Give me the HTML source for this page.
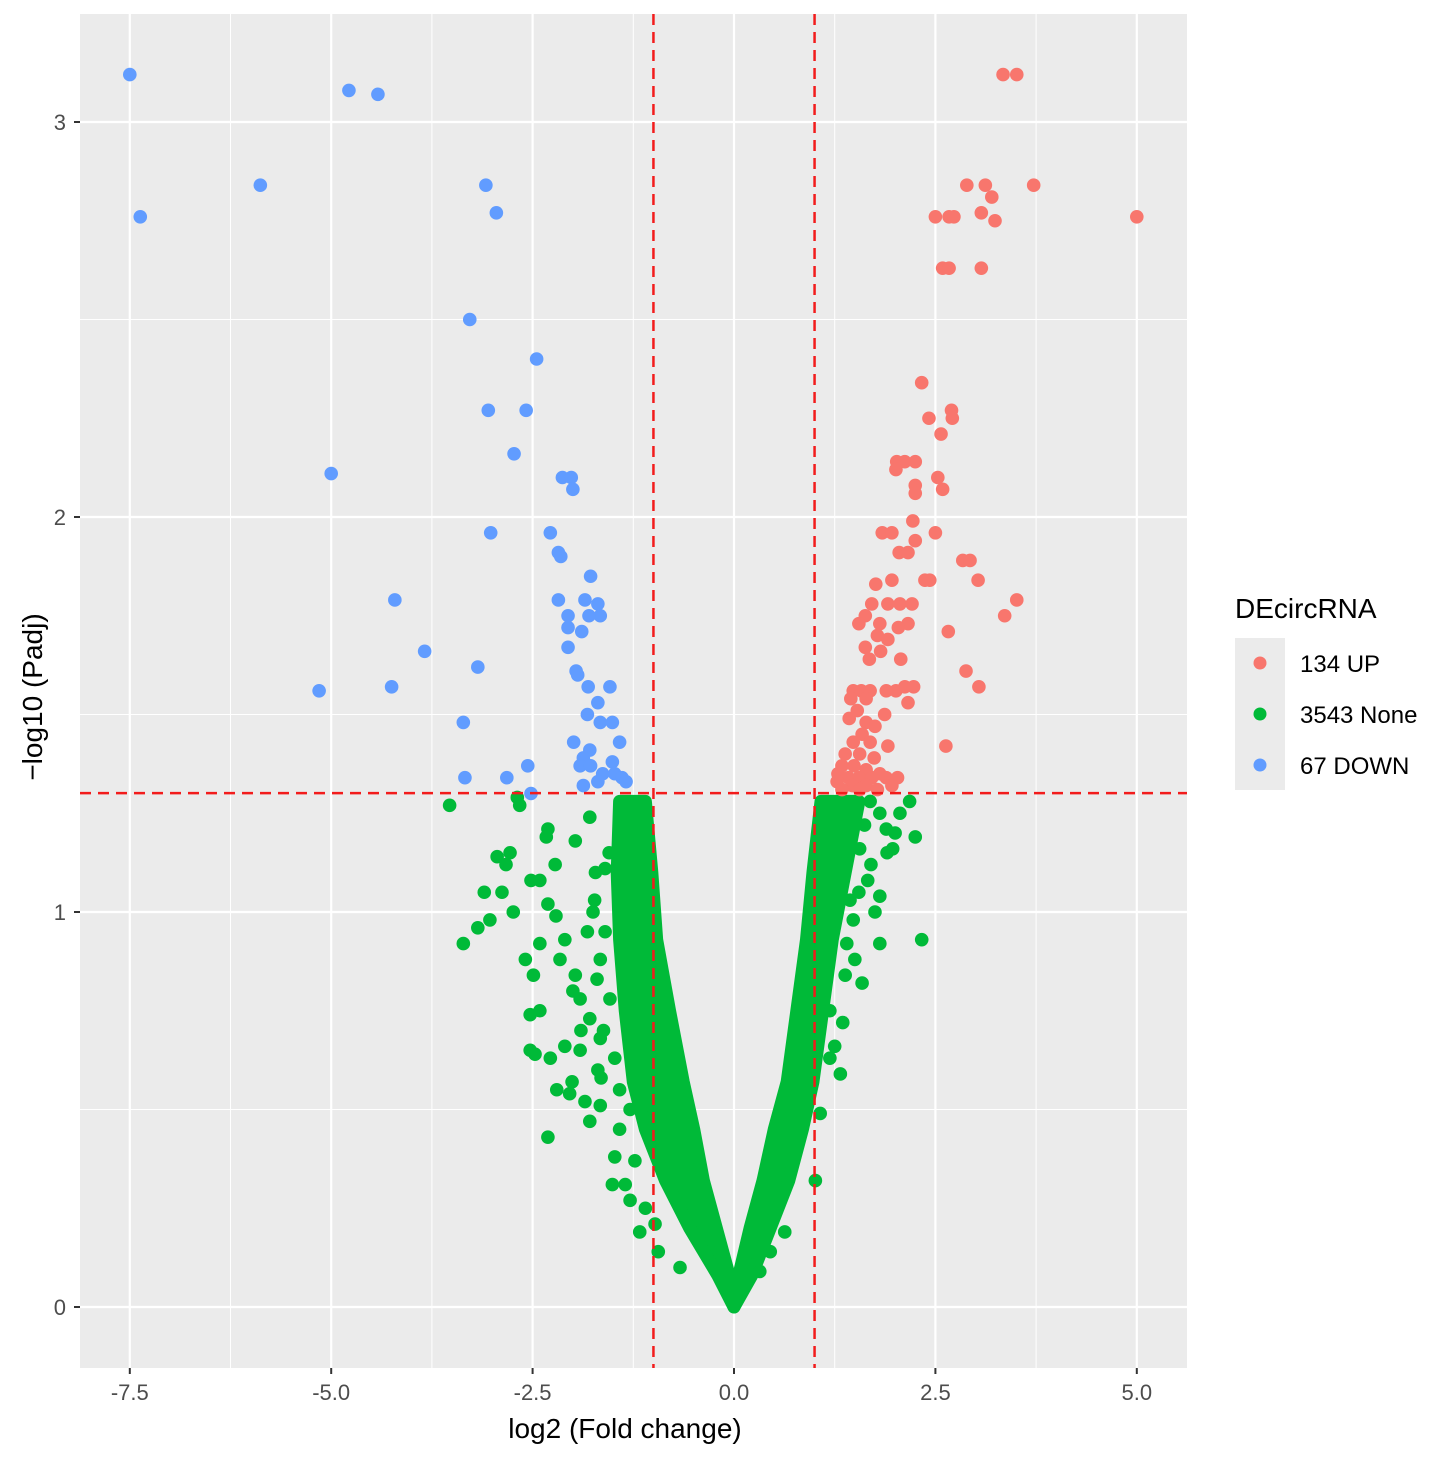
<!DOCTYPE html>
<html><head><meta charset="utf-8">
<style>
html,body{margin:0;padding:0;background:#fff;}
svg{display:block;font-family:"Liberation Sans",Arial,sans-serif;}
</style></head>
<body>
<svg id="chart" width="1441" height="1459" viewBox="0 0 1441 1459" xmlns="http://www.w3.org/2000/svg">
<rect x="80" y="14" width="1107" height="1354" fill="#ebebeb"/>
<g id="grid"></g>
<g id="core"></g>
<g id="points"></g>
<g id="thresholds"></g>
<g id="axes"></g>
<text x="625" y="1438" font-size="28" text-anchor="middle" fill="#000">log2 (Fold change)</text>
<text transform="translate(42,697) rotate(-90)" font-size="28" text-anchor="middle" fill="#000">−log10 (Padj)</text>
<g>
<text x="1235" y="618" font-size="28" fill="#000">DEcircRNA</text>
<rect x="1235" y="638" width="50" height="152" fill="#ebebeb"/>
<g><circle cx="1260" cy="663" r="6.5" fill="#f8766d"/><text x="1300" y="672" font-size="24" fill="#000">134 UP</text></g>
<g><circle cx="1260" cy="714" r="6.5" fill="#00ba38"/><text x="1300" y="723" font-size="24" fill="#000">3543 None</text></g>
<g><circle cx="1260" cy="765" r="6.5" fill="#619cff"/><text x="1300" y="774" font-size="24" fill="#000">67 DOWN</text></g>
</g>
</svg>
<script>
// ---- data ----
const xTicks = [-7.5, -5.0, -2.5, 0.0, 2.5, 5.0];
const xTickLabels = ["-7.5", "-5.0", "-2.5", "0.0", "2.5", "5.0"];
const yTicks = [0, 1, 2, 3];
const yTickLabels = ["0", "1", "2", "3"];
const fcThresholds = [-1, 1];
const padjThreshold = 1.301;

const downX = [-7.50,-7.37,-4.78,-4.42,-5.88,-3.08,-2.95,-3.28,-2.45,-3.05,-2.58,-2.73,-5.00,-2.13,-2.02,-2.00,-2.28,-3.02,-2.18,-2.15,-1.78,-2.18,-1.85,-1.69,-1.66,-1.80,-2.06,-2.06,-1.89,-2.06,-4.21,-3.84,-3.18,-5.15,-4.25,-1.96,-1.94,-1.81,-1.54,-1.69,-1.82,-1.66,-1.51,-3.36,-1.99,-1.79,-1.42,-1.87,-1.91,-1.78,-1.51,-1.63,-1.48,-1.39,-1.69,-2.56,-3.34,-2.82,-2.52,-1.87,-1.34];
const downY = [3.12,2.76,3.08,3.07,2.84,2.84,2.77,2.50,2.40,2.27,2.27,2.16,2.11,2.10,2.10,2.07,1.96,1.96,1.91,1.90,1.85,1.79,1.79,1.78,1.75,1.75,1.75,1.72,1.71,1.67,1.79,1.66,1.62,1.56,1.57,1.61,1.60,1.57,1.57,1.53,1.50,1.48,1.48,1.48,1.43,1.41,1.43,1.39,1.37,1.37,1.38,1.35,1.35,1.34,1.33,1.37,1.34,1.34,1.30,1.32,1.33];

const upX = [3.34,3.51,3.72,2.89,3.12,3.20,3.07,3.24,2.50,2.67,2.73,5.00,2.59,2.67,3.07,2.33,2.70,2.71,2.42,2.57,2.02,2.12,2.25,2.01,2.53,2.25,2.59,2.25,1.84,1.96,2.50,2.22,2.25,2.05,2.16,2.84,2.93,1.96,1.76,2.37,3.03,2.43,1.91,2.06,2.21,3.51,3.36,1.71,1.63,1.55,1.81,2.16,2.04,2.66,1.78,1.91,1.63,1.82,2.07,2.88,3.04,1.68,2.01,2.12,2.23,1.48,1.58,1.69,1.89,1.45,1.64,2.16,1.53,1.87,1.43,1.64,1.75,1.59,1.48,1.69,1.91,2.63,1.38,1.56,1.74,1.34,1.49,1.64,1.81,1.29,1.42,1.55,1.71,1.89,2.03,1.28,1.47,1.64,1.96,1.34,1.56,1.78];
const upY = [3.12,3.12,2.84,2.84,2.84,2.81,2.77,2.75,2.76,2.76,2.76,2.76,2.63,2.63,2.63,2.34,2.27,2.25,2.25,2.21,2.14,2.14,2.14,2.12,2.10,2.08,2.07,2.06,1.96,1.96,1.96,1.99,1.94,1.91,1.91,1.89,1.89,1.84,1.83,1.84,1.84,1.84,1.78,1.78,1.78,1.79,1.75,1.78,1.75,1.73,1.73,1.73,1.72,1.71,1.70,1.69,1.67,1.66,1.64,1.61,1.57,1.64,1.56,1.57,1.57,1.56,1.56,1.56,1.56,1.54,1.54,1.53,1.51,1.50,1.49,1.48,1.47,1.45,1.43,1.43,1.42,1.42,1.40,1.40,1.39,1.37,1.37,1.36,1.35,1.35,1.34,1.34,1.34,1.34,1.34,1.33,1.32,1.32,1.32,1.31,1.31,1.31];

const noneX = [-3.53,-2.69,-2.66,-2.94,-2.78,-2.83,-3.36,-3.18,-3.03,-3.10,-2.88,-2.74,-2.59,-2.49,-2.41,-2.53,-2.41,-2.47,-2.53,-2.31,-2.33,-2.22,-2.41,-2.52,-2.31,-2.21,-2.20,-2.04,-2.28,-2.31,-2.01,-1.91,-2.10,-1.85,-1.66,-1.79,-1.42,-1.97,-1.79,-2.16,-2.10,-1.97,-1.91,-1.79,-1.66,-1.51,-1.35,-1.29,-1.17,-0.94,-0.67,-0.98,-1.10,-1.23,-1.48,-1.73,-1.60,-1.66,-1.54,-1.48,-1.69,-1.42,-1.29,
 -1.75,-1.82,-1.70,-1.62,-1.90,-1.60,-1.72,-2.00,-1.55,-1.65,
 2.25,2.33,1.81,1.75,1.81,1.66,1.97,1.89,1.81,1.69,2.06,1.56,1.32,1.25,1.19,1.38,1.50,1.59,1.07,1.01,1.19,0.32,0.45,0.63,2.18,1.44,
 1.62,1.70,1.55,1.48,1.40,1.35,1.90,2.00];
const noneY = [1.27,1.29,1.27,1.14,1.15,1.12,0.92,0.96,0.98,1.05,1.05,1.00,0.88,0.84,0.92,0.74,0.75,0.64,0.65,1.21,1.19,1.12,1.08,1.08,1.02,0.99,0.55,0.54,0.63,0.43,0.57,0.65,0.66,0.52,0.51,0.47,0.45,1.18,1.24,0.88,0.93,0.84,0.78,0.73,0.68,0.31,0.31,0.27,0.19,0.14,0.10,0.21,0.25,0.37,0.38,1.03,1.11,0.88,0.78,0.63,0.60,0.55,0.50,
 1.00,0.95,0.83,0.70,0.70,0.95,1.10,0.80,1.15,0.58,
 1.19,0.93,0.92,1.00,1.04,1.08,1.16,1.21,1.25,1.28,1.25,1.16,0.59,0.66,0.75,0.84,0.88,0.82,0.49,0.32,0.63,0.09,0.14,0.19,1.28,1.03,
 1.22,1.12,1.05,0.98,0.92,0.72,1.15,1.20];

// dense "None" core envelope (log2FC bounds at each -log10 level)
const coreLevels   = [0, 0.08, 0.20, 0.32, 0.45, 0.57, 0.75, 0.93, 1.10, 1.28];
const coreLeftOut  = [0, -0.20, -0.55, -0.85, -1.10, -1.25, -1.35, -1.42, -1.45, -1.42];
const coreLeftIn   = [0, -0.06, -0.22, -0.38, -0.50, -0.63, -0.80, -0.96, -1.02, -1.10];
const coreRightIn  = [0, 0.06, 0.20, 0.36, 0.50, 0.66, 0.78, 0.90, 0.98, 1.08];
const coreRightOut = [0, 0.22, 0.45, 0.68, 0.85, 0.98, 1.10, 1.22, 1.38, 1.55];

// ---- scales ----
const X0 = 734, XS = 80.56, Y0 = 1307, YS = 395;
const PL = 80, PR = 1187, PT = 14, PB = 1368;
const sx = v => X0 + v * XS;
const sy = v => Y0 - v * YS;
const NS = "http://www.w3.org/2000/svg";
function mk(tag, attrs, parent) {
  const e = document.createElementNS(NS, tag);
  for (const k in attrs) e.setAttribute(k, attrs[k]);
  parent.appendChild(e);
  return e;
}
const grid = document.getElementById('grid');
const axes = document.getElementById('axes');
for (let i = 0; i < xTicks.length - 1; i++) {
  const m = (xTicks[i] + xTicks[i + 1]) / 2;
  const l = mk('line', {x1: sx(m), x2: sx(m), y1: PT, y2: PB, stroke: '#fff', 'stroke-width': 1}, grid);
  
  
}
for (let i = 0; i < yTicks.length; i++) {
  const m = yTicks[i] + 0.5;
  if (sy(m) < PT) continue;
  const l = mk('line', {x1: PL, x2: PR, y1: sy(m), y2: sy(m), stroke: '#fff', 'stroke-width': 1}, grid);
  
  
}
xTicks.forEach((t, i) => {
  const l = mk('line', {x1: sx(t), x2: sx(t), y1: PT, y2: PB, stroke: '#fff', 'stroke-width': 2.2}, grid);
  
  
  const tk = mk('line', {x1: sx(t), x2: sx(t), y1: PB, y2: PB + 6, stroke: '#333', 'stroke-width': 2}, axes);
  
  
  const tx = mk('text', {x: sx(t), y: PB + 32, 'font-size': 22, 'text-anchor': 'middle', fill: '#4d4d4d'}, axes);
  tx.textContent = xTickLabels[i];
  
  
});
yTicks.forEach((t, i) => {
  const l = mk('line', {x1: PL, x2: PR, y1: sy(t), y2: sy(t), stroke: '#fff', 'stroke-width': 2.2}, grid);
  
  
  const tk = mk('line', {x1: PL - 6, x2: PL, y1: sy(t), y2: sy(t), stroke: '#333', 'stroke-width': 2}, axes);
  
  
  const tx = mk('text', {x: PL - 14, y: sy(t) + 8, 'font-size': 22, 'text-anchor': 'end', fill: '#4d4d4d'}, axes);
  tx.textContent = yTickLabels[i];
  
  
});
const core = document.getElementById('core');
function arm(outer, inner, name) {
  let pts = [];
  for (let i = 0; i < coreLevels.length; i++) pts.push(sx(outer[i]) + ',' + sy(coreLevels[i]));
  for (let i = coreLevels.length - 1; i >= 0; i--) pts.push(sx(inner[i]) + ',' + sy(coreLevels[i]));
  const p = mk('polygon', {points: pts.join(' '), fill: '#00ba38', stroke: '#00ba38', 'stroke-width': 13, 'stroke-linejoin': 'round'}, core);
  
  
}
arm(coreLeftOut, coreLeftIn, 'core-left-arm');
arm(coreRightOut, coreRightIn, 'core-right-arm');
const pg = document.getElementById('points');
noneX.forEach((x, i) => {
  const c = mk('circle', {cx: sx(x), cy: sy(noneY[i]), r: 6.8, fill: '#00ba38'}, pg);
  
  
});
downX.forEach((x, i) => {
  const c = mk('circle', {cx: sx(x), cy: sy(downY[i]), r: 6.8, fill: '#619cff'}, pg);
  
  
});
upX.forEach((x, i) => {
  const c = mk('circle', {cx: sx(x), cy: sy(upY[i]), r: 6.8, fill: '#f8766d'}, pg);
  
  
});
const th = document.getElementById('thresholds');
fcThresholds.forEach(v => {
  const l = mk('line', {x1: sx(v), x2: sx(v), y1: PT, y2: PB, stroke: '#f21c1c', 'stroke-width': 2.5, 'stroke-dasharray': '11,7'}, th);
  
  
});
const hl = mk('line', {x1: PL, x2: PR, y1: sy(padjThreshold), y2: sy(padjThreshold), stroke: '#f21c1c', 'stroke-width': 2.5, 'stroke-dasharray': '11,7'}, th);


</script>
</body></html>
